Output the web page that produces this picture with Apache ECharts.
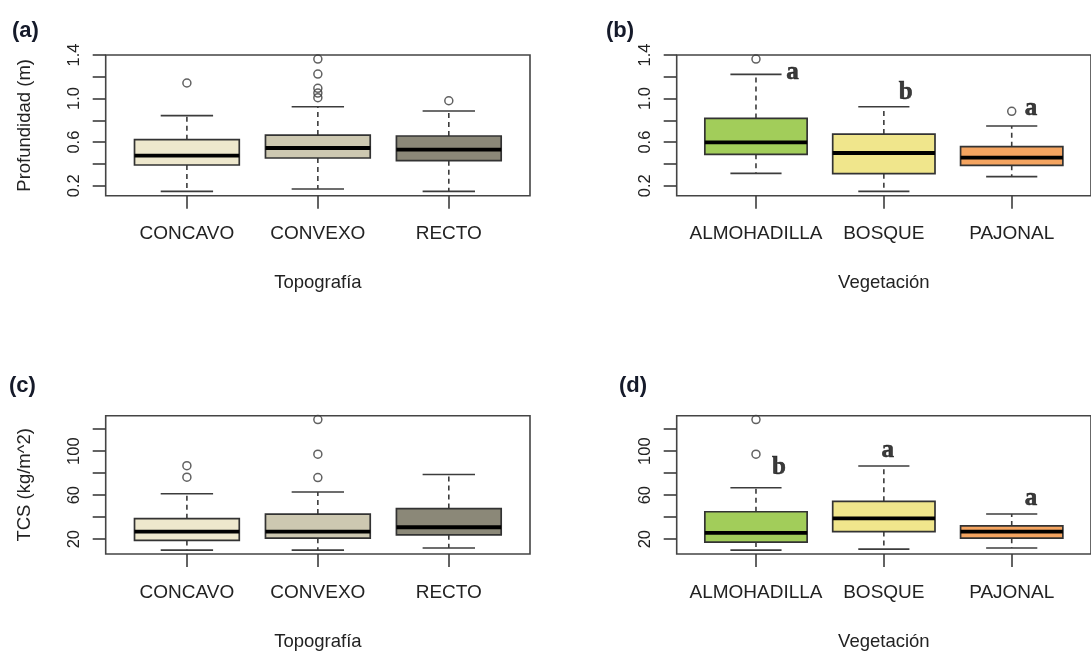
<!DOCTYPE html>
<html>
<head>
<meta charset="utf-8">
<script src="https://cdn.jsdelivr.net/npm/echarts@6/dist/echarts.min.js"></script>
<style>
html,body{margin:0;padding:0;background:#fff;}
#chart{width:1091px;height:652px;}
</style>
</head>
<body>
<div id="chart"></div>
<script>
// ---------- data ----------
const topoCats = ['CONCAVO', 'CONVEXO', 'RECTO'];
const vegCats = ['ALMOHADILLA', 'BOSQUE', 'PAJONAL'];
const topoColors = ['#EEE8CD', '#CDC8B1', '#8B8878'];
const vegColors = ['#A2CD5A', '#F0E68C', '#F4A460'];

// box stats: [lower whisker, Q1, median, Q3, upper whisker]
const profTopoBoxes = [
  [0.148, 0.390, 0.476, 0.622, 0.843],
  [0.169, 0.454, 0.546, 0.665, 0.925],
  [0.148, 0.430, 0.531, 0.656, 0.886]
];
// outliers: [category position, value]
const profTopoOutliers = [[1, 1.143], [2, 1.363], [2, 1.225], [2, 1.094], [2, 1.050], [2, 1.008], [3, 0.980]];

const profVegBoxes = [
  [0.313, 0.488, 0.598, 0.818, 1.222],
  [0.148, 0.310, 0.500, 0.674, 0.925],
  [0.283, 0.387, 0.457, 0.558, 0.748]
];
const profVegOutliers = [[1, 1.363], [3, 0.883]];
const profVegLetters = [['a', 1.285, 1.236], ['b', 2.17, 1.058], ['a', 3.15, 0.912]];

const tcsTopoBoxes = [
  [10.0, 18.8, 26.9, 38.6, 61.3],
  [10.0, 20.9, 26.9, 42.8, 62.8],
  [11.9, 23.9, 30.8, 47.8, 78.7]
];
const tcsTopoOutliers = [[1, 86.8], [1, 76.3], [2, 128.7], [2, 97.2], [2, 76.0]];

const tcsVegBoxes = [
  [10.0, 17.3, 25.7, 44.9, 66.7],
  [10.9, 26.9, 38.9, 54.4, 86.5],
  [11.9, 20.9, 26.9, 32.0, 42.8]
];
const tcsVegOutliers = [[1, 128.7], [1, 97.2]];
const tcsVegLetters = [['b', 1.18, 85.5], ['a', 2.03, 100.4], ['a', 3.15, 57.0]];

const profTicks = [0.2, 0.4, 0.6, 0.8, 1.0, 1.2, 1.4];
const profTickLabels = [0.2, 0.6, 1.0, 1.4];
const tcsTicks = [20, 40, 60, 80, 100, 120];
const tcsTickLabels = [20, 60, 100];
const catPositions = [1, 2, 3];

// ---------- styling ----------
const TXT = '#222';
const LINE = '#3c3c3c';
const SANS = 'Liberation Sans, Arial, sans-serif';
const SERIF = 'Liberation Serif, Times New Roman, serif';

const grids = [
  {left: 105.7, top: 55, width: 424.3, height: 140.7},
  {left: 676.7, top: 55, width: 423.7, height: 140.7},
  {left: 105.7, top: 415.7, width: 424.3, height: 140},
  {left: 676.7, top: 415.7, width: 423.7, height: 140}
].map(g => Object.assign(g, {show: true, borderColor: '#444', borderWidth: 1.6, backgroundColor: 'transparent', containLabel: false}));

function xAxisFor(gi, cats, title) {
  return {
    type: 'value', gridIndex: gi, min: 0.38, max: 3.62,
    axisLine: {show: false},
    splitLine: {show: false},
    axisTick: {show: true, inside: false, length: 13, customValues: catPositions, lineStyle: {color: LINE, width: 1.6}},
    axisLabel: {show: true, margin: 29, customValues: catPositions,
      formatter: v => cats[Math.round(v) - 1] || '',
      color: TXT, fontFamily: SANS, fontSize: 19},
    name: title, nameLocation: 'middle', nameGap: 78,
    nameTextStyle: {color: TXT, fontFamily: SANS, fontSize: 18.5}
  };
}
function yAxisFor(gi, min, max, ticks, labels, title, dec) {
  return {
    type: 'value', gridIndex: gi, min: min, max: max,
    axisLine: {show: false},
    splitLine: {show: false},
    axisTick: {show: true, inside: false, length: 13, customValues: ticks, lineStyle: {color: LINE, width: 1.6}},
    axisLabel: {show: true, rotate: 90, margin: 23, customValues: labels,
      formatter: v => dec ? Number(v).toFixed(1) : String(Math.round(v)),
      color: TXT, fontFamily: SANS, fontSize: 16.5},
    name: title || '', nameLocation: 'middle', nameGap: 71, nameRotate: 90,
    nameTextStyle: {color: TXT, fontFamily: SANS, fontSize: 18.5}
  };
}

function boxSeries(gi, boxes, colors) {
  return {
    type: 'custom', xAxisIndex: gi, yAxisIndex: gi,
    data: boxes.map((b, i) => [i + 1].concat(b)),
    encode: {x: 0, y: [1, 2, 3, 4, 5]},
    renderItem: function (params, api) {
      const x = api.value(0);
      const lw = api.coord([x, api.value(1)]);
      const q1 = api.coord([x, api.value(2)]);
      const md = api.coord([x, api.value(3)]);
      const q3 = api.coord([x, api.value(4)]);
      const uw = api.coord([x, api.value(5)]);
      const bw = api.size([0.8, 0])[0];
      const cw = bw * 0.5;
      const cx = q1[0];
      const dash = {stroke: LINE, lineWidth: 1.6, lineDash: [5, 4]};
      const solid = {stroke: LINE, lineWidth: 1.6};
      return {
        type: 'group',
        children: [
          {type: 'line', shape: {x1: cx, y1: q3[1], x2: cx, y2: uw[1]}, style: dash},
          {type: 'line', shape: {x1: cx, y1: q1[1], x2: cx, y2: lw[1]}, style: dash},
          {type: 'line', shape: {x1: cx - cw / 2, y1: uw[1], x2: cx + cw / 2, y2: uw[1]}, style: solid},
          {type: 'line', shape: {x1: cx - cw / 2, y1: lw[1], x2: cx + cw / 2, y2: lw[1]}, style: solid},
          {type: 'rect', shape: {x: cx - bw / 2, y: q3[1], width: bw, height: q1[1] - q3[1]},
            style: {fill: colors[params.dataIndex], stroke: '#333', lineWidth: 1.7}},
          {type: 'line', shape: {x1: cx - bw / 2, y1: md[1], x2: cx + bw / 2, y2: md[1]},
            style: {stroke: '#000', lineWidth: 3.8}}
        ]
      };
    },
    z: 2
  };
}
function outlierSeries(gi, pts) {
  return {
    type: 'scatter', xAxisIndex: gi, yAxisIndex: gi, data: pts,
    symbol: 'circle', symbolSize: 8,
    itemStyle: {color: 'rgba(255,255,255,0)', borderColor: '#3a3a3a', borderWidth: 1.5},
    z: 3, silent: true
  };
}
function letterSeries(gi, letters) {
  return {
    type: 'scatter', xAxisIndex: gi, yAxisIndex: gi,
    data: letters.map(l => ({name: l[0], value: [l[1], l[2]]})),
    symbolSize: 0,
    label: {show: true, position: 'inside', formatter: p => p.name,
      fontFamily: SERIF, fontWeight: 'bold', fontSize: 25, color: '#0a0a0a',
      textBorderColor: '#0a0a0a', textBorderWidth: 0.6},
    z: 4, silent: true
  };
}

const panelLabel = (txt, x, y) => ({
  type: 'text', left: x, top: y,
  style: {text: txt, font: 'bold 22px ' + SANS, fill: '#151a2a'}
});

const option = {
  backgroundColor: '#fff',
  animation: false,
  grid: grids,
  xAxis: [
    xAxisFor(0, topoCats, 'Topografía'),
    xAxisFor(1, vegCats, 'Vegetación'),
    xAxisFor(2, topoCats, 'Topografía'),
    xAxisFor(3, vegCats, 'Vegetación')
  ],
  yAxis: [
    yAxisFor(0, 0.108, 1.4, profTicks, profTickLabels, 'Profundidad (m)', true),
    yAxisFor(1, 0.108, 1.4, profTicks, profTickLabels, '', true),
    yAxisFor(2, 6.5, 132.2, tcsTicks, tcsTickLabels, 'TCS (kg/m^2)', false),
    yAxisFor(3, 6.5, 132.2, tcsTicks, tcsTickLabels, '', false)
  ],
  graphic: [
    panelLabel('(a)', 12, 20),
    panelLabel('(b)', 606, 20),
    panelLabel('(c)', 9, 375),
    panelLabel('(d)', 619, 375)
  ],
  series: [
    boxSeries(0, profTopoBoxes, topoColors),
    outlierSeries(0, profTopoOutliers),
    boxSeries(1, profVegBoxes, vegColors),
    outlierSeries(1, profVegOutliers),
    letterSeries(1, profVegLetters),
    boxSeries(2, tcsTopoBoxes, topoColors),
    outlierSeries(2, tcsTopoOutliers),
    boxSeries(3, tcsVegBoxes, vegColors),
    outlierSeries(3, tcsVegOutliers),
    letterSeries(3, tcsVegLetters)
  ]
};

const chart = echarts.init(document.getElementById('chart'), null, {renderer: 'canvas'});
chart.setOption(option);
</script>
</body>
</html>
